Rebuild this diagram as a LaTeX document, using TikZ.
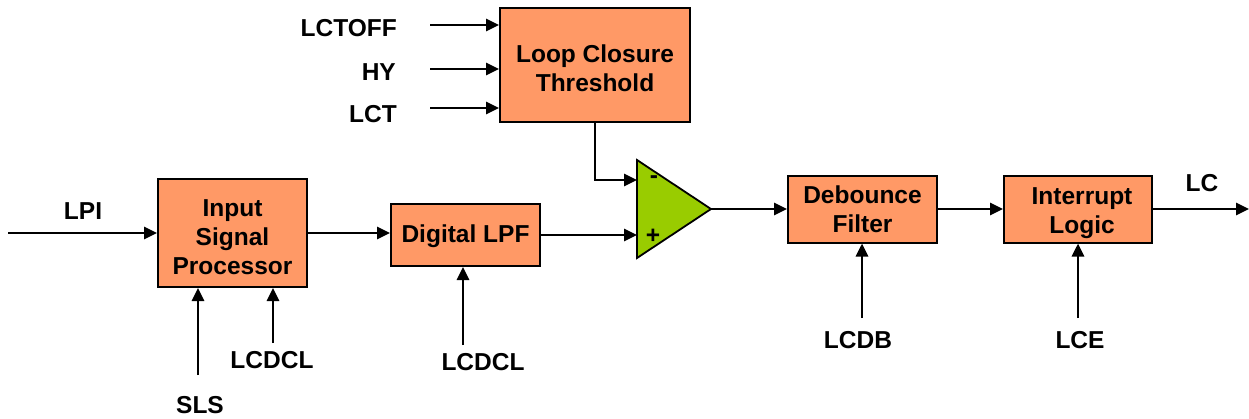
\documentclass[tikz,border=0pt]{standalone}
\usepackage{fontspec}
\setmainfont{Liberation Sans}
\usetikzlibrary{arrows.meta,calc}
\definecolor{boxorange}{RGB}{255,153,102}
\definecolor{cmpgreen}{RGB}{153,204,0}
\begin{document}
\begin{tikzpicture}[x=1pt,y=-1pt,
  txt/.style={font=\fontsize{24.5}{29}\selectfont\bfseries, inner sep=0pt, align=center},
  blk/.style={draw=black, line width=2pt, fill=boxorange, inner sep=0pt},
  arr/.style={line width=2.8pt, -{Triangle[length=13pt,width=12pt]}},
  wire/.style={line width=2.8pt}]
\useasboundingbox (0,0) rectangle (1249,418);

% blocks
\node[blk, minimum width=190pt, minimum height=114pt,
      label={[txt, yshift=-3pt]center:{Loop Closure\\Threshold}}] (lct) at (595,65) {};
\node[blk, minimum width=149pt, minimum height=108pt,
      label={[txt, yshift=-4pt]center:{Input\\Signal\\Processor}}] (isp) at (232.5,233) {};
\node[blk, minimum width=149pt, minimum height=62pt,
      label={[txt, yshift=-1pt]center:{Digital LPF}}] (lpf) at (465.5,235) {};
\node[blk, minimum width=149pt, minimum height=67pt,
      label={[txt, yshift=0pt]center:{Debounce\\Filter}}] (deb) at (862.5,209) {};
\node[blk, minimum width=148pt, minimum height=67pt,
      label={[txt, yshift=-4pt, xshift=4pt]center:{Interrupt\\Logic}}] (intr) at (1078,209) {};

% comparator
\draw[line width=1.8pt, fill=cmpgreen] (637,160) -- (711,209) -- (637,258) -- cycle;
\coordinate (cmpm) at (637,180);
\coordinate (cmpp) at (637,235);
\coordinate (cmpo) at (711,209);
\node[txt] (minus) at (654,180) {-};
\node[txt] (plus) at (653,236) {+};

% threshold inputs
\node[txt, anchor=east] (lctoff) at (397,28) {LCTOFF};
\node[txt, anchor=east] (hy) at (396,72) {HY};
\node[txt, anchor=east] (lctl) at (397,114) {LCT};
\coordinate (s1) at (430,25);
\coordinate (s2) at (430,69);
\coordinate (s3) at (430,108);
\draw[arr] (s1) -- (s1 -| lct.west);
\draw[arr] (s2) -- (s2 -| lct.west);
\draw[arr] (s3) -- (s3 -| lct.west);

% threshold to comparator
\draw[arr] (lct.south) |- (cmpm);

% main chain
\node[txt] (lpi) at (83,211) {LPI};
\coordinate (lpis) at (8,233);
\draw[arr] (lpis) -- (lpis -| isp.west);
\draw[arr] (isp.east) -- (isp.east -| lpf.west);
\draw[arr] (lpf.east) -- (cmpp);
\draw[arr] (cmpo) -- (cmpo -| deb.west);
\draw[arr] (deb.east) -- (intr.west);
\coordinate (lcend) at (1249,209);
\draw[arr] (intr.east) -- (lcend);
\node[txt] (lc) at (1202,183) {LC};

% bottom inputs
\node[txt] (sls) at (200,405) {SLS};
\coordinate (slss) at (198,375);
\draw[arr] (slss) -- (slss |- isp.south);
\node[txt] (lcdcla) at (272,360) {LCDCL};
\coordinate (lcdclas) at (273,343);
\draw[arr] (lcdclas) -- (lcdclas |- isp.south);
\node[txt] (lcdclb) at (483,362) {LCDCL};
\coordinate (lcdclbs) at (463,345);
\draw[arr] (lcdclbs) -- (lcdclbs |- lpf.south);
\node[txt] (lcdb) at (858,340) {LCDB};
\coordinate (lcdbs) at (862,318);
\draw[arr] (lcdbs) -- (lcdbs |- deb.south);
\node[txt] (lce) at (1080,340) {LCE};
\coordinate (lces) at (1078,318);
\draw[arr] (lces) -- (lces |- intr.south);
\end{tikzpicture}
\end{document}
